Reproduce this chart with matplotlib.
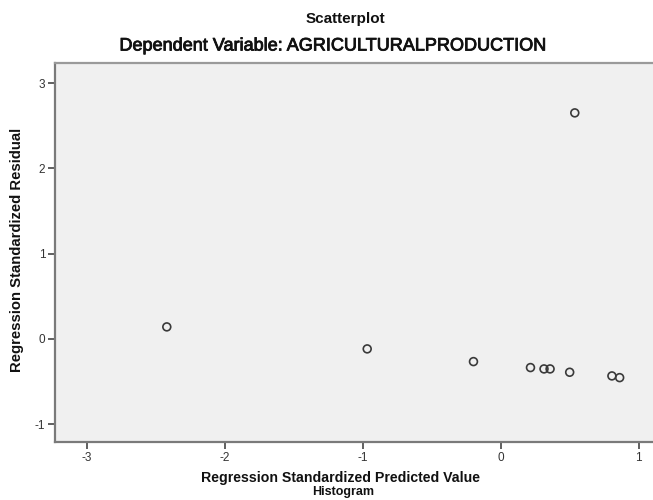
import matplotlib
matplotlib.use("Agg")
import matplotlib.pyplot as plt
import matplotlib.patheffects as pe

plt.rcParams['font.family'] = ['Liberation Sans', 'DejaVu Sans']

predicted = [-2.42, -0.968, -0.198, 0.215, 0.313, 0.357, 0.499, 0.536, 0.805, 0.861]
residual = [0.14, -0.118, -0.267, -0.337, -0.353, -0.353, -0.392, 2.65, -0.435, -0.455]
xticks = [-3, -2, -1, 0, 1]
yticks = [-1, 0, 1, 2, 3]

fig = plt.figure(figsize=(6.53, 5.0), dpi=100)
ax = fig.add_axes([55/653, 1-442/500, (653-55)/653 + 0.01, (442-63)/500])
ax.set_facecolor('#F0F0F0')
ax.scatter(predicted, residual, s=32, facecolors='none', edgecolors='#3a3a3a', linewidths=1.2, zorder=3)
ax.set_xlim(-3.23, 1.15)
ax.set_ylim(-1.21, 3.235)
ax.set_xticks(xticks)
ax.set_yticks(yticks)
ax.set_xticklabels([str(v) for v in xticks])
ax.set_yticklabels([str(v) for v in yticks])
for s in ['left', 'bottom']:
    ax.spines[s].set_color('#7a7a7a')
    ax.spines[s].set_linewidth(1.6)
ax.spines['top'].set_color('#9a9a9a')
ax.spines['top'].set_linewidth(1.6)
ax.spines['right'].set_visible(False)
ax.tick_params(direction='out', length=5, width=1.2, color='#444444', labelsize=8.5, labelcolor='#333333', pad=2)

fig.text(345/653, 1-19/500, 'Scatterplot', ha='center', va='center', fontsize=11, fontweight='bold', color='#111111')
fig.text(332/653, 1-46/500, 'Dependent Variable: AGRICULTURALPRODUCTION', ha='center', va='center', fontsize=13, color='#111111',
         path_effects=[pe.withStroke(linewidth=0.6, foreground='#111111')])
fig.text(340/653, 1-478/500, 'Regression Standardized Predicted Value', ha='center', va='center', fontsize=10.2, fontweight='bold', color='#111111')
fig.text(343/653, 1-492.5/500, 'Histogram', ha='center', va='center', fontsize=9, fontweight='bold', color='#111111')
fig.text(17/653, 1-250/500, 'Regression Standardized Residual', ha='center', va='center', rotation=90, fontsize=10.7, fontweight='bold', color='#111111')

fig.savefig('out.png', dpi=100, facecolor='white')
